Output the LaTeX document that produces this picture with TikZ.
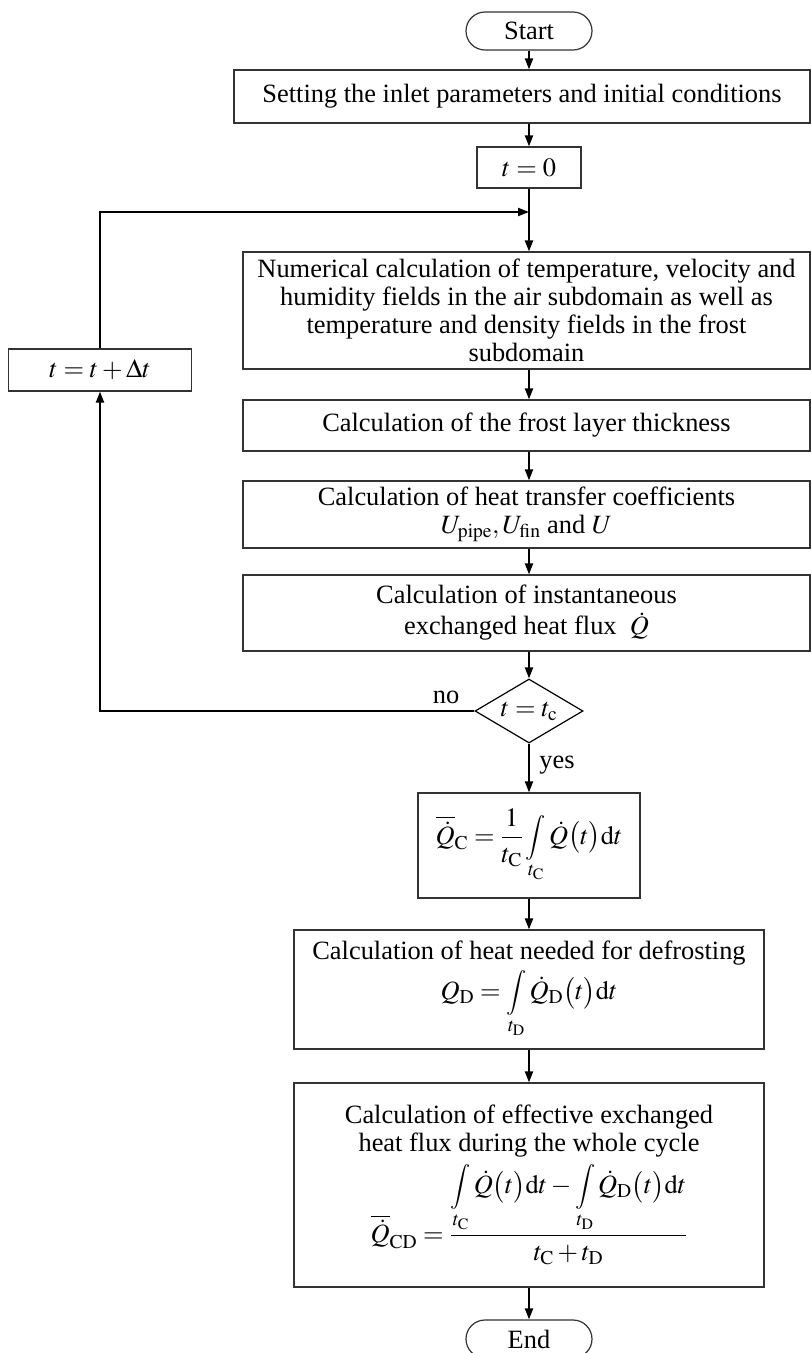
\documentclass[tikz,border=0pt]{standalone}
\usepackage{amsmath}
\usepackage{graphicx}
\usepackage{mathptmx}
\usepackage{fontspec}
\setmainfont{Liberation Serif}
\usetikzlibrary{shapes.geometric,arrows.meta}
\newcommand\fs{\fontsize{26.4pt}{28pt}\selectfont}
\newcommand\intl[1]{\mathop{\vcenter{\hbox{\scalebox{0.85}{$\displaystyle\int$}}}}\limits_{#1}}
\begin{document}
\begin{tikzpicture}[x=1pt,y=-1pt,
  box/.style={draw=black!80, line width=1.2pt, inner sep=0pt, align=center, font=\fs},
  term/.style={box, rounded corners=19pt},
  arr/.style={line width=2pt, -{Triangle[length=11pt,width=8pt]}},
  lbl/.style={font=\fs, inner sep=0pt}]
\useasboundingbox (0,0) rectangle (811,1353);
\coordinate (axis) at (529,0);
\node[term, minimum width=126pt, minimum height=38pt] (start) at (529,31) {Start};
\node[box, minimum width=576pt, minimum height=53pt] (set) at (522,96.5) {Setting the inlet parameters and initial conditions};
\node[box, minimum width=104pt, minimum height=41pt] (t0) at (529,167.5) {$t = 0$};
\coordinate (join) at (529,212);
\node[box, minimum width=567pt, minimum height=117pt] (num) at (526.5,310.5) {Numerical calculation of temperature, velocity and\\humidity fields in the air subdomain as well as\\temperature and density fields in the frost\\subdomain};
\node[box, minimum width=567pt, minimum height=51pt] (frost) at (526.5,425.5) {Calculation of the frost layer thickness};
\node[box, minimum width=567pt, minimum height=67pt] (coef) at (526.5,514.5) {Calculation of heat transfer coefficients\\$U_{\mathrm{pipe}}, U_{\mathrm{fin}}$ and $U$};
\node[box, minimum width=567pt, minimum height=76pt] (inst) at (526.5,613) {Calculation of instantaneous\\[3pt]exchanged heat flux \ $\dot{Q}$};
\node[draw=black, line width=1.2pt, shape=diamond, aspect=1.69, inner sep=0pt, minimum width=108pt, minimum height=64pt, font=\fs] (dia) at (529,711) {$t = t_{\mathrm{c}}$};
\node[box, minimum width=183pt, minimum height=42pt] (tinc) at (100,370) {$t = t + \Delta t$};
\node[box, minimum width=222pt, minimum height=105pt] (qc) at (529,845.5) {$\displaystyle\overline{\dot{Q}}_{\mathrm{C}} = \frac{1}{t_{\mathrm{C}}}\intl{t_{\mathrm{C}}}\dot{Q}\bigl(t\bigr)\mathrm{d}t$};
\node[box, minimum width=470pt, minimum height=119pt] (qd) at (529,989.5) {Calculation of heat needed for defrosting\\[4pt]$\displaystyle Q_{\mathrm{D}} = \intl{t_{\mathrm{D}}}\dot{Q}_{\mathrm{D}}\bigl(t\bigr)\mathrm{d}t$};
\node[box, minimum width=470pt, minimum height=204pt] (qcd) at (529,1185) {Calculation of effective exchanged\\heat flux during the whole cycle\\[6pt]$\displaystyle\overline{\dot{Q}}_{\mathrm{CD}} = \frac{\displaystyle\intl{t_{\mathrm{C}}}\dot{Q}\bigl(t\bigr)\mathrm{d}t - \intl{t_{\mathrm{D}}}\dot{Q}_{\mathrm{D}}\bigl(t\bigr)\mathrm{d}t}{t_{\mathrm{C}} + t_{\mathrm{D}}}$};
\node[term, minimum width=126pt, minimum height=38pt] (end) at (529,1339) {End};
\draw[arr] (start.south) -- (start.south |- set.north);
\draw[arr] (t0.north |- set.south) -- (t0.north);
\draw[arr] (t0.south) -- (t0.south |- num.north);
\draw[arr] (tinc.north) |- (join);
\draw[arr] (num.south -| axis) -- (frost.north -| axis);
\draw[arr] (frost.south -| axis) -- (coef.north -| axis);
\draw[arr] (coef.south -| axis) -- (inst.north -| axis);
\draw[arr] (inst.south -| axis) -- (dia.north);
\draw[arr] (dia.west) -| (tinc.south);
\draw[arr] (dia.south) -- (qc.north);
\draw[arr] (qc.south) -- (qd.north);
\draw[arr] (qd.south) -- (qcd.north);
\draw[arr] (qcd.south) -- (end.north);
\node[lbl] (no) at (446,697) {no};
\node[lbl] (yes) at (557,765) {yes};
\end{tikzpicture}
\end{document}
